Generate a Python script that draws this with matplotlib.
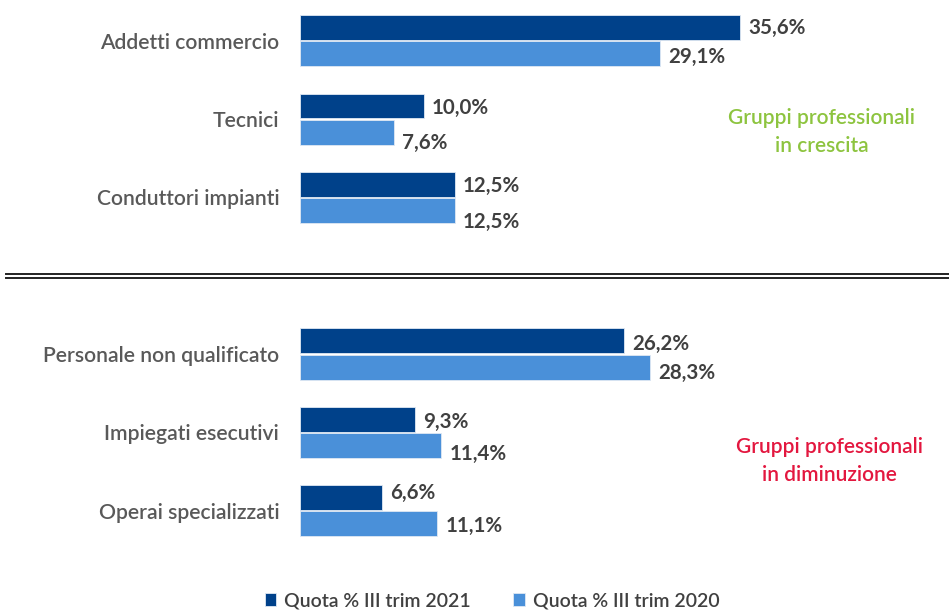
import matplotlib.pyplot as plt
import numpy as np

plt.rcParams['font.family'] = ['Lato', 'DejaVu Sans']

# Dati
categorie = ["Addetti commercio", "Tecnici", "Conduttori impianti",
             "Personale non qualificato", "Impiegati esecutivi", "Operai specializzati"]
quota_2021 = [35.6, 10.0, 12.5, 26.2, 9.3, 6.6]
quota_2020 = [29.1, 7.6, 12.5, 28.3, 11.4, 11.1]
posizioni = [0, 1, 2, 4, 5, 6]   # 3 = separatore tra i due gruppi

# spostamento verticale delle etichette (punti, verso il basso)
sposta_2021 = [0, 1.5, 1.5, 2, 2, -3.5]
sposta_2020 = [2, 8, 8, 4, 6.5, 2]

col_2021 = "#00418A"
col_2020 = "#4A90D9"
col_testo = "#404040"

fig = plt.figure(figsize=(9.49, 6.10), dpi=100)
ax = fig.add_axes([300 / 949, 50 / 610, 649 / 949, 560 / 610])

y = np.array(posizioni, dtype=float)
off = 0.167
h = 0.318
ax.barh(y - off, quota_2021, height=h, color=col_2021, edgecolor="#dfe8f3", linewidth=0.6,
        label="Quota % III trim 2021")
ax.barh(y + off, quota_2020, height=h, color=col_2020, edgecolor="#dfe8f3", linewidth=0.6,
        label="Quota % III trim 2020")

ax.set_xlim(0, 649 / 12.37)
ax.set_ylim(560 / 78.3 - 40.8 / 78.3, -40.8 / 78.3)

# Etichette valori
for yi, v1, v2, s1, s2 in zip(y, quota_2021, quota_2020, sposta_2021, sposta_2020):
    ax.annotate(f"{v1:.1f}%".replace(".", ","), (v1, yi - off), xytext=(6, -s1),
                textcoords="offset points", ha="left", va="center",
                fontsize=14.8, fontweight="bold", color=col_testo)
    ax.annotate(f"{v2:.1f}%".replace(".", ","), (v2, yi + off), xytext=(6, -s2),
                textcoords="offset points", ha="left", va="center",
                fontsize=14.8, fontweight="bold", color=col_testo)

# Etichette categorie
ax.set_yticks(y)
ax.set_yticklabels(categorie, fontsize=15.2, color="#595959", fontweight="semibold")
ax.tick_params(axis="y", length=0, pad=15)
ax.set_xticks([])
for s in ax.spines.values():
    s.set_visible(False)

# Doppia linea di separazione
x0 = -294 / 12.37
ax.plot([x0, 52.5], [2.975, 2.975], color="#222222", lw=1.4, clip_on=False)
ax.plot([x0, 52.5], [3.025, 3.025], color="#222222", lw=1.4, clip_on=False)

# Note dei gruppi
fig.text(822 / 949, 1 - 132 / 610, "Gruppi professionali\nin crescita", ha="center", va="center",
         fontsize=15, fontweight="semibold", color="#8DC43F", linespacing=1.5)
fig.text(829 / 949, 1 - 461 / 610, "Gruppi professionali\nin diminuzione", ha="center", va="center",
         fontsize=15, fontweight="semibold", color="#E3173F", linespacing=1.5)

leg = fig.legend(loc="center", bbox_to_anchor=(492 / 949, 1 - 601 / 610), ncol=2, frameon=False,
                 fontsize=14, handlelength=0.6, handleheight=0.6, handletextpad=0.4,
                 columnspacing=2.2)
for t in leg.get_texts():
    t.set_color(col_testo)
    t.set_fontweight("semibold")

fig.savefig("out.png", dpi=100)
